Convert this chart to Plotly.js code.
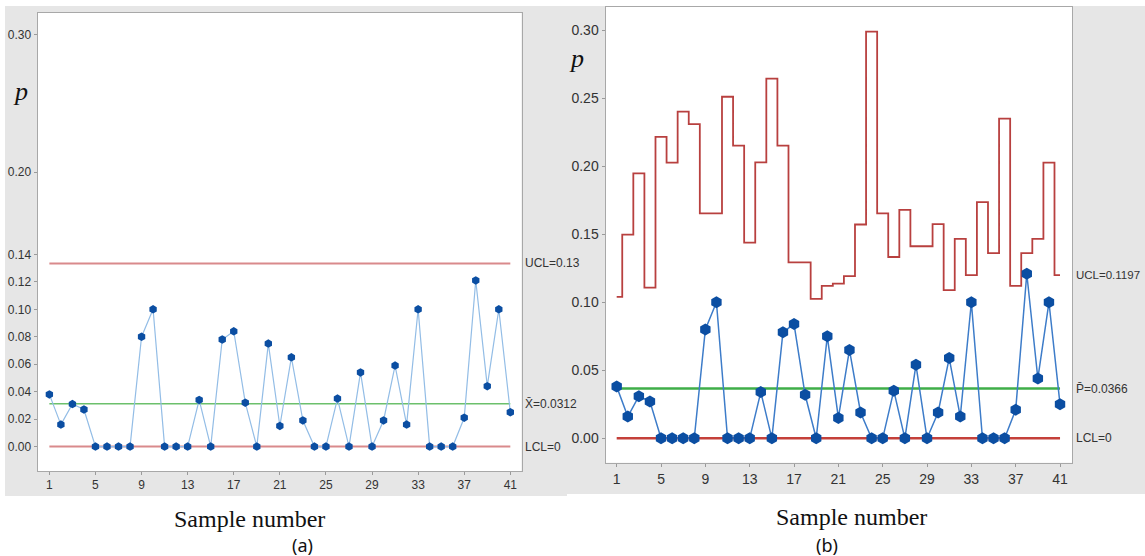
<!DOCTYPE html>
<html>
<head>
<meta charset="utf-8">
<script src="https://cdn.plot.ly/plotly-3.0.1.min.js"></script>
<style>
html,body{margin:0;padding:0;background:#fff;}
#chart{width:1145px;height:556px;}
</style>
</head>
<body>
<div id="chart"></div>
<script>
// ---- data ----
const samples = [1,2,3,4,5,6,7,8,9,10,11,12,13,14,15,16,17,18,19,20,21,22,23,24,25,26,27,28,29,30,31,32,33,34,35,36,37,38,39,40,41];
const pValues = [0.038,0.016,0.031,0.027,0,0,0,0,0.080,0.100,0,0,0,0.034,0,0.078,0.084,0.032,0,0.075,0.015,0.065,0.019,0,0,0.035,0,0.054,0,0.019,0.059,0.016,0.100,0,0,0,0.021,0.121,0.044,0.100,0.025];
const uclB = [0.104,0.1497,0.1948,0.1108,0.2216,0.2026,0.2401,0.231,0.1653,0.1653,0.2511,0.2151,0.1439,0.2029,0.2644,0.2151,0.1293,0.1293,0.1025,0.1121,0.1137,0.1192,0.1572,0.299,0.1654,0.1333,0.168,0.1412,0.1412,0.1575,0.109,0.1466,0.1199,0.1736,0.1361,0.235,0.1121,0.1361,0.1466,0.2026,0.1199];
const uclA = 0.1334;
const centerA = 0.0312;
const centerB = 0.0366;
const lcl = 0;
const xTicks = [1,5,9,13,17,21,25,29,33,37,41];
const yTicksA = [0,0.02,0.04,0.06,0.08,0.10,0.12,0.14,0.20,0.30];
const yTickTextA = ['0.00','0.02','0.04','0.06','0.08','0.10','0.12','0.14','0.20','0.30'];
const yTicksB = [0,0.05,0.10,0.15,0.20,0.25,0.30];
const yTickTextB = ['0.00','0.05','0.10','0.15','0.20','0.25','0.30'];
const labelsA = ['UCL=0.13', 'X\u0304=0.0312', 'LCL=0'];
const labelsB = ['UCL=0.1197', 'P\u0304=0.0366', 'LCL=0'];

// ---- geometry ----
const W = 1145, H = 556;
const px = v => v / W;
const py = v => 1 - v / H;
const first = samples[0], last = samples[samples.length - 1];

const narrow = 'Liberation Sans Narrow, Arial Narrow, sans-serif';
const serif = 'Liberation Serif, Times New Roman, DejaVu Serif, serif';

const traces = [
  // panel a
  {x: [first, last], y: [uclA, uclA], xaxis: 'x', yaxis: 'y', mode: 'lines', line: {color: '#d98a8c', width: 2}, hoverinfo: 'skip'},
  {x: [first, last], y: [lcl, lcl], xaxis: 'x', yaxis: 'y', mode: 'lines', line: {color: '#d98a8c', width: 2}, hoverinfo: 'skip'},
  {x: [first, last], y: [centerA, centerA], xaxis: 'x', yaxis: 'y', mode: 'lines', line: {color: '#6cc06c', width: 1.5}, hoverinfo: 'skip'},
  {x: samples, y: pValues, xaxis: 'x', yaxis: 'y', mode: 'lines+markers',
   line: {color: '#93bde6', width: 1.2}, marker: {symbol: 'hexagon', size: 8.5, color: '#0b4ea2'}},
  // panel b
  {x: samples, y: uclB, xaxis: 'x2', yaxis: 'y2', mode: 'lines', line: {color: '#b8403f', width: 1.8, shape: 'hvh'}, hoverinfo: 'skip'},
  {x: [first, last], y: [lcl, lcl], xaxis: 'x2', yaxis: 'y2', mode: 'lines', line: {color: '#c4403a', width: 2.5}, hoverinfo: 'skip'},
  {x: [first, last], y: [centerB, centerB], xaxis: 'x2', yaxis: 'y2', mode: 'lines', line: {color: '#3fae49', width: 2.5}, hoverinfo: 'skip'},
  {x: samples, y: pValues, xaxis: 'x2', yaxis: 'y2', mode: 'lines+markers',
   line: {color: '#3d7cc9', width: 1.5}, marker: {symbol: 'hexagon', size: 12, color: '#0b4ea2'}}
];

const axisCommon = {
  showgrid: false, zeroline: false, showline: true, mirror: true, linecolor: '#a8a8a8', linewidth: 1,
  ticks: 'outside', ticklen: 3, tickcolor: '#9a9a9a', tickmode: 'array'
};

const domA = {x: [px(37.5), px(521.5)], y: [py(471), py(12.8)]};
const domB = {x: [px(605.5), px(1072)], y: [py(462.8), py(7.1)]};

const layout = {
  width: W, height: H,
  margin: {l: 0, r: 0, t: 0, b: 0},
  paper_bgcolor: '#ffffff', plot_bgcolor: '#ffffff',
  showlegend: false,
  xaxis: Object.assign({}, axisCommon, {domain: domA.x, range: [-0.03, 41.97], tickvals: xTicks,
    tickfont: {family: narrow, size: 12, color: '#333'}, anchor: 'y'}),
  yaxis: Object.assign({}, axisCommon, {domain: domA.y, range: [-0.0178, 0.316], tickvals: yTicksA, ticktext: yTickTextA,
    tickfont: {family: narrow, size: 12, color: '#333'}, anchor: 'x'}),
  xaxis2: Object.assign({}, axisCommon, {domain: domB.x, range: [-0.01, 42.08], tickvals: xTicks,
    tickfont: {family: narrow, size: 14, color: '#333'}, anchor: 'y2'}),
  yaxis2: Object.assign({}, axisCommon, {domain: domB.y, range: [-0.018, 0.317], tickvals: yTicksB, ticktext: yTickTextB,
    tickfont: {family: narrow, size: 14, color: '#333'}, anchor: 'x2'}),
  shapes: [
    {type: 'rect', xref: 'paper', yref: 'paper', x0: px(5), x1: px(567), y0: py(496), y1: py(6), fillcolor: '#e6e6e6', line: {width: 0}, layer: 'below'},
    {type: 'rect', xref: 'paper', yref: 'paper', x0: px(567), x1: px(1145), y0: py(494), y1: py(6), fillcolor: '#e6e6e6', line: {width: 0}, layer: 'below'},
    {type: 'rect', xref: 'paper', yref: 'paper', x0: domA.x[0], x1: domA.x[1], y0: domA.y[0], y1: domA.y[1], fillcolor: '#ffffff', line: {width: 0}, layer: 'below'},
    {type: 'rect', xref: 'paper', yref: 'paper', x0: domB.x[0], x1: domB.x[1], y0: domB.y[0], y1: domB.y[1], fillcolor: '#ffffff', line: {width: 0}, layer: 'below'}
  ],
  annotations: [
    // right-side labels panel a
    {xref: 'paper', yref: 'y', x: px(523), y: uclA, text: labelsA[0], showarrow: false, xanchor: 'left', yanchor: 'middle', font: {family: narrow, size: 12, color: '#333'}},
    {xref: 'paper', yref: 'y', x: px(523), y: centerA, text: labelsA[1], showarrow: false, xanchor: 'left', yanchor: 'middle', font: {family: narrow, size: 12, color: '#333'}},
    {xref: 'paper', yref: 'y', x: px(523), y: lcl, text: labelsA[2], showarrow: false, xanchor: 'left', yanchor: 'middle', font: {family: narrow, size: 12, color: '#333'}},
    // right-side labels panel b
    {xref: 'paper', yref: 'y2', x: px(1074), y: uclB[uclB.length - 1], text: labelsB[0], showarrow: false, xanchor: 'left', yanchor: 'middle', font: {family: narrow, size: 11.5, color: '#333'}},
    {xref: 'paper', yref: 'y2', x: px(1074), y: centerB, text: labelsB[1], showarrow: false, xanchor: 'left', yanchor: 'middle', font: {family: narrow, size: 12, color: '#333'}},
    {xref: 'paper', yref: 'y2', x: px(1074), y: lcl, text: labelsB[2], showarrow: false, xanchor: 'left', yanchor: 'middle', font: {family: narrow, size: 12, color: '#333'}},
    // y-axis "p" labels
    {xref: 'paper', yref: 'paper', x: px(21), y: py(92), text: '<i>p</i>', showarrow: false, xanchor: 'center', yanchor: 'middle', font: {family: serif, size: 26, color: '#111'}},
    {xref: 'paper', yref: 'paper', x: px(576), y: py(58), text: '<i>p</i>', showarrow: false, xanchor: 'center', yanchor: 'middle', font: {family: serif, size: 26, color: '#111'}},
    // x-axis titles
    {xref: 'paper', yref: 'paper', x: px(249), y: py(519), text: 'Sample number', showarrow: false, xanchor: 'center', yanchor: 'middle', font: {family: serif, size: 24, color: '#111'}},
    {xref: 'paper', yref: 'paper', x: px(851), y: py(517), text: 'Sample number', showarrow: false, xanchor: 'center', yanchor: 'middle', font: {family: serif, size: 24, color: '#111'}},
    // panel letters
    {xref: 'paper', yref: 'paper', x: px(302), y: py(545), text: '(a)', showarrow: false, xanchor: 'center', yanchor: 'middle', font: {family: 'Noto Sans, DejaVu Sans, sans-serif', size: 18, color: '#111'}},
    {xref: 'paper', yref: 'paper', x: px(827), y: py(545), text: '(b)', showarrow: false, xanchor: 'center', yanchor: 'middle', font: {family: 'Noto Sans, DejaVu Sans, sans-serif', size: 18, color: '#111'}}
  ]
};

Plotly.newPlot('chart', traces, layout, {displayModeBar: false, staticPlot: true});
</script>
</body>
</html>
